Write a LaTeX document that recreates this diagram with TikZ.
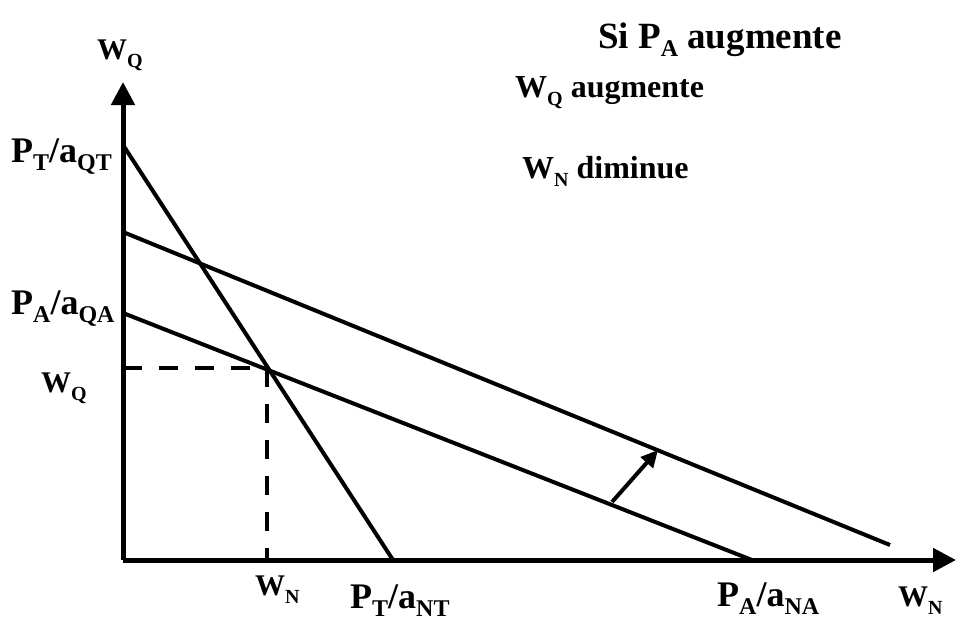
\documentclass[tikz,border=0pt]{standalone}
\usepackage{fontspec}
\setmainfont{Liberation Serif}
\usetikzlibrary{arrows.meta}
\newcommand{\dnL}[1]{\raisebox{-8pt}[\height][0pt]{\fontsize{24}{24}\selectfont #1}}
\newcommand{\dnM}[1]{\raisebox{-8pt}[\height][0pt]{\fontsize{20}{20}\selectfont #1}}
\tikzset{
  big/.style={font=\fontsize{36}{40}\selectfont\bfseries, inner sep=0pt, anchor=base west},
  mid/.style={font=\fontsize{30}{34}\selectfont\bfseries, inner sep=0pt, anchor=base west},
  note/.style={font=\fontsize{32}{36}\selectfont\bfseries, inner sep=0pt, anchor=base west},
  axisline/.style={line width=5pt, -{Triangle[length=23pt,width=23pt]}},
  curveline/.style={line width=4pt, line cap=butt},
  guideline/.style={line width=4.5pt, dash pattern=on 19pt off 17pt},
  movearrow/.style={line width=4pt, -{Triangle[length=17pt,width=16pt]}}
}
\begin{document}
\begin{tikzpicture}[x=1pt,y=-1pt]
\useasboundingbox (0,0) rectangle (956,621);
% coordinates
\coordinate (O) at (123,560);
\coordinate (ytop) at (123,82);
\coordinate (xend) at (956,560);
\coordinate (qt) at (123,145);
\coordinate (nt) at (393,560);
\coordinate (qa) at (123,313);
\coordinate (na) at (752,560);
\coordinate (qa2) at (123,232);
\coordinate (na2) at (890,545);
\coordinate (E) at (267,368);
\coordinate (Ey) at (123,368);
\coordinate (Ex) at (267,560);
\coordinate (s0) at (612,502);
\coordinate (s1) at (658,450);
% lines
\draw[curveline] (qt) -- (nt);
\draw[curveline] (qa) -- (na);
\draw[curveline] (qa2) -- (na2);
\draw[guideline] (Ey) -- (E) -- (Ex);
\draw[movearrow] (s0) -- (s1);
\draw[axisline] (O) -- (ytop);
\draw[axisline] (O) -- (xend);
% labels
\node[mid] (lwq) at (97,59) {W\dnM{Q}};
\node[big] (lpt) at (11,162) {P\dnL{T}/a\dnL{QT}};
\node[big] (lpa) at (11,314) {P\dnL{A}/a\dnL{QA}};
\node[mid] (lwq2) at (41,392) {W\dnM{Q}};
\node[mid] (lwn) at (255,595) {W\dnM{N}};
\node[big] (lptn) at (350,608) {P\dnL{T}/a\dnL{NT}};
\node[big] (lpan) at (717,606) {P\dnL{A}/a\dnL{NA}};
\node[mid] (lwn2) at (898,606) {W\dnM{N}};
\node[big, font=\fontsize{37}{40}\selectfont\bfseries] (title) at (598,48) {Si P\dnL{A} augmente};
\node[note] (t1) at (515,97) {W\dnM{Q} augmente};
\node[note] (t2) at (522,178) {W\dnM{N} diminue};
\end{tikzpicture}
\end{document}
